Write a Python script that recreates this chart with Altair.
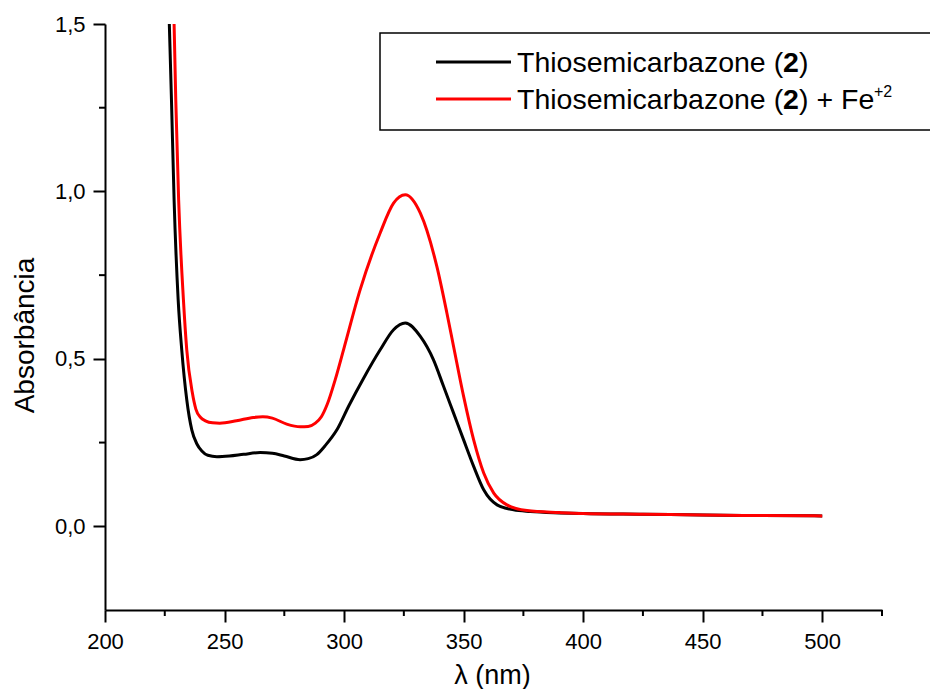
import altair as alt
import pandas as pd

# ---- data ----
black_wl = [226.3, 226.9, 227.8, 228.9, 230.6, 232.1, 234.2, 236.3, 238.5, 240.5, 243, 246.8, 252, 258,
            264.9, 270, 275, 281.6, 285, 288.6, 292, 297, 302, 308, 315.1, 320.7, 325.6, 331.9,
            337.4, 341.6, 345.8, 350, 354.2, 358.4, 364, 370.9, 377.9, 390, 400, 425, 450, 475, 500]
black_abs = [1.65, 1.50, 1.274, 0.975, 0.677, 0.527, 0.378, 0.288, 0.245, 0.225, 0.212, 0.208, 0.210, 0.215,
             0.220, 0.218, 0.210, 0.199, 0.202, 0.214, 0.240, 0.288, 0.36, 0.44, 0.527, 0.587, 0.607, 0.567,
             0.497, 0.418, 0.338, 0.258, 0.179, 0.109, 0.064, 0.049, 0.044, 0.040, 0.038, 0.036, 0.034, 0.032, 0.031]

red_wl = [228.3, 228.9, 229.6, 230.8, 232.8, 234.2, 236.5, 238, 240, 242, 245, 248, 255, 262, 266, 270,
          276, 281.7, 285, 288, 290.5, 293, 296.3, 300, 306.7, 315.1, 320.7, 325.6, 331.9, 338.8, 343, 345.8,
          350, 354.2, 358.4, 362.6, 368.1, 376.5, 390, 400, 425, 450, 475, 500]
red_abs = [1.68, 1.50, 1.274, 0.975, 0.677, 0.527, 0.40, 0.35, 0.325, 0.315, 0.309, 0.308, 0.315, 0.325, 0.327, 0.323,
           0.305, 0.297, 0.298, 0.308, 0.327, 0.365, 0.438, 0.533, 0.706, 0.876, 0.965, 0.990, 0.935, 0.776, 0.637, 0.537,
           0.388, 0.258, 0.159, 0.099, 0.064, 0.047, 0.041, 0.038, 0.036, 0.034, 0.032, 0.031]

x_major = [200, 250, 300, 350, 400, 450, 500]
x_minor = [225, 275, 325, 375, 425, 475, 525]
y_major = [0.0, 0.5, 1.0, 1.5]
y_minor = [0.25, 0.75, 1.25]

FONT = "Liberation Sans"
W, H = 777, 586

df_black = pd.DataFrame({"wl": black_wl, "A": black_abs})
df_red = pd.DataFrame({"wl": red_wl, "A": red_abs})
df_xmin = pd.DataFrame({"wl": x_minor})
df_ymin = pd.DataFrame({"A": y_minor})
one = pd.DataFrame({"a": [0]})

xscale = alt.Scale(domain=[200, 525], nice=False, zero=False)
yscale = alt.Scale(domain=[-0.25, 1.5], nice=False, zero=False)

xaxis = alt.Axis(values=x_major, format="d", tickSize=12, tickWidth=2, tickColor="black",
                 domainWidth=2, domainColor="black", grid=False, labelFlush=False,
                 labelFont=FONT, labelFontSize=22, labelColor="black", labelPadding=9,
                 title="λ (nm)", titleFont=FONT, titleFontSize=27, titleFontWeight="normal",
                 titleColor="black", titleX=387, titleY=73, titleAlign="center",
                 titleBaseline="alphabetic")
yaxis = alt.Axis(values=y_major, labelExpr="replace(format(datum.value, '.1f'), '.', ',')",
                 tickSize=12, tickWidth=2, tickColor="black", labelFlush=False,
                 domainWidth=2, domainColor="black", grid=False,
                 labelFont=FONT, labelFontSize=22, labelColor="black", labelPadding=8,
                 title="Absorbância", titleFont=FONT, titleFontSize=28, titleFontWeight="normal",
                 titleColor="black", titleAngle=-90, titleX=-80, titleY=311, titleAlign="center",
                 titleBaseline="middle")

black_line = alt.Chart(df_black).mark_line(color="black", strokeWidth=3, clip=True,
                                           interpolate="monotone").encode(
    x=alt.X("wl:Q", scale=xscale, axis=xaxis),
    y=alt.Y("A:Q", scale=yscale, axis=yaxis),
)
red_line = alt.Chart(df_red).mark_line(color="#ff0000", strokeWidth=3, clip=True,
                                       interpolate="monotone").encode(
    x=alt.X("wl:Q", scale=xscale),
    y=alt.Y("A:Q", scale=yscale),
)

xminor_ticks = alt.Chart(df_xmin).mark_rule(color="black", strokeWidth=2).encode(
    x=alt.X("wl:Q", scale=xscale),
    y=alt.value(H), y2=alt.value(H + 6),
)
yminor_ticks = alt.Chart(df_ymin).mark_rule(color="black", strokeWidth=2).encode(
    y=alt.Y("A:Q", scale=yscale),
    x=alt.value(-6), x2=alt.value(0),
)

# ---- legend drawn by hand (mixed bold / superscript text) ----
legend_box = alt.Chart(one).mark_rect(fill="white", stroke="black", strokeWidth=1.5).encode(
    x=alt.value(275), x2=alt.value(830), y=alt.value(9), y2=alt.value(106))
leg_black = alt.Chart(one).mark_rule(color="black", strokeWidth=3).encode(
    x=alt.value(331), x2=alt.value(406), y=alt.value(38))
leg_red = alt.Chart(one).mark_rule(color="#ff0000", strokeWidth=3).encode(
    x=alt.value(331), x2=alt.value(406), y=alt.value(75))


def txt(s, x, y, size=28.5, weight="normal"):
    return alt.Chart(one).mark_text(text=s, align="left", baseline="alphabetic", font=FONT,
                                    fontSize=size, fontWeight=weight, color="black").encode(
        x=alt.value(x), y=alt.value(y))


legend_texts = [
    txt("Thiosemicarbazone (", 412, 48),
    txt("2", 678, 48, weight="bold"),
    txt(")", 694, 48),
    txt("Thiosemicarbazone (", 412, 85),
    txt("2", 678, 85, weight="bold"),
    txt(") + Fe", 694, 85),
    txt("+2", 769, 73, size=16),
]

chart = alt.layer(
    black_line, red_line, xminor_ticks, yminor_ticks,
    legend_box, leg_black, leg_red, *legend_texts,
).properties(
    width=W, height=H,
    autosize=alt.AutoSizeParams(type="none"),
    padding={"left": 97, "top": 16, "right": 48, "bottom": 79},
    background="white",
).configure_view(stroke=None)

chart.save("out.html", embed_options={"renderer": "svg", "actions": False})
